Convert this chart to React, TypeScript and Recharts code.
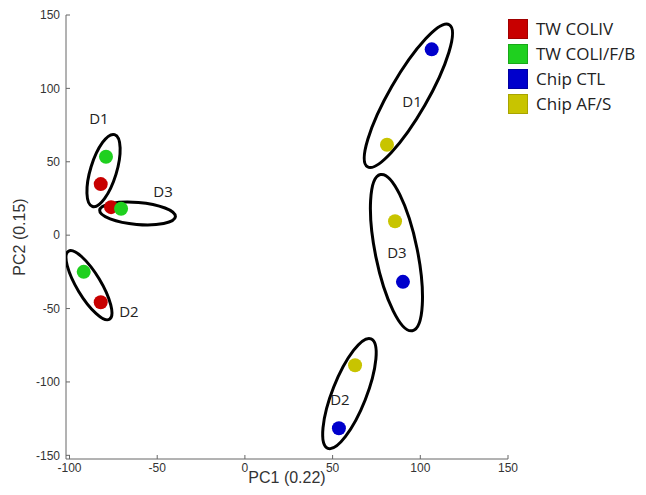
import { ScatterChart, Scatter, XAxis, YAxis, Label } from "recharts";

// PCA scores
const twColiv = [
  { x: -82.2, y: 34.8 },
  { x: -76.3, y: 19.1 },
  { x: -82.2, y: -45.7 },
];
const twColiFB = [
  { x: -79.2, y: 53.4 },
  { x: -70.6, y: 18.0 },
  { x: -91.9, y: -25.0 },
];
const chipCtl = [
  { x: 106.5, y: 126.6 },
  { x: 90.1, y: -31.8 },
  { x: 53.6, y: -131.6 },
];
const chipAFS = [
  { x: 81.0, y: 61.6 },
  { x: 85.6, y: 9.5 },
  { x: 62.8, y: -88.6 },
];

// donor ellipses: centre, tip of the long axis (data units), short radius (px)
const ellipses = [
  { x: -80.6, y: 44.0, tx: -74.3, ty: 68.5, r: 13 },
  { x: -61.2, y: 14.8, tx: -39.6, ty: 12.6, r: 11 },
  { x: -88.9, y: -34.1, tx: -77.2, ty: -57.3, r: 12 },
  { x: 93.2, y: 95.0, tx: 116.5, ty: 143.4, r: 19 },
  { x: 86.4, y: -11.9, tx: 77.3, ty: 41.3, r: 21 },
  { x: 59.6, y: -107.9, tx: 71.9, ty: -70.6, r: 17 },
];

const donorLabels = [
  { x: -83.2, y: 79.8, text: "D1" },
  { x: -46.7, y: 30.0, text: "D3" },
  { x: -66.1, y: -51.8, text: "D2" },
  { x: 95.3, y: 91.4, text: "D1" },
  { x: 86.7, y: -11.6, text: "D3" },
  { x: 54.2, y: -111.8, text: "D2" },
];

const xTicks = [-100, -50, 0, 50, 100, 150];
const yTicks = [-150, -100, -50, 0, 50, 100, 150];

const legendItems = [
  { name: "TW COLIV", color: "#c80000", border: "#a00000" },
  { name: "TW COLI/F/B", color: "#1fd01f", border: "#18a818" },
  { name: "Chip CTL", color: "#0000cc", border: "#0000a0" },
  { name: "Chip AF/S", color: "#c8c400", border: "#a8a400" },
];

const X_DOMAIN = [-102, 150];
const Y_DOMAIN = [-152.5, 150];
const PLOT_W = 442;
const PLOT_H = 444;
const KX = PLOT_W / (X_DOMAIN[1] - X_DOMAIN[0]);
const KY = PLOT_H / (Y_DOMAIN[1] - Y_DOMAIN[0]);

const dot = (color: string) => (props: any) =>
  <circle cx={props.cx} cy={props.cy} r={7} fill={color} />;

const EllipseShape = (props: any) => {
  const { cx, cy, payload } = props;
  const dx = (payload.tx - payload.x) * KX;
  const dy = -(payload.ty - payload.y) * KY;
  const rx = Math.hypot(dx, dy);
  const angle = (Math.atan2(dy, dx) * 180) / Math.PI;
  return (
    <ellipse
      cx={cx}
      cy={cy}
      rx={rx}
      ry={payload.r}
      transform={`rotate(${angle} ${cx} ${cy})`}
      fill="none"
      stroke="#000"
      strokeWidth={3}
    />
  );
};

const TextShape = (props: any) => (
  <text
    x={props.cx}
    y={props.cy}
    textAnchor="middle"
    dominantBaseline="central"
    fontSize={15}
    fontFamily="Open Sans"
    fill="#222"
  >
    {props.payload.text}
  </text>
);

const tickStyle = { fontSize: 12, fill: "#333", fontFamily: "Liberation Sans" };

export default function App() {
  return (
    <div style={{ position: "absolute", left: 0, top: 0, width: 646, height: 495, background: "#fff" }}>
      <ScatterChart width={646} height={495} margin={{ top: 15, right: 138, bottom: 6, left: 0 }}>
        <XAxis
          type="number"
          dataKey="x"
          domain={X_DOMAIN}
          ticks={xTicks}
          allowDataOverflow
          height={30}
          tick={tickStyle}
          tickSize={-4}
          tickMargin={8}
          axisLine={{ stroke: "#666" }}
          tickLine={{ stroke: "#666" }}
        >
          <Label
            value="PC1 (0.22)"
            position="insideBottom"
            offset={6}
            style={{ fontSize: 16, fill: "#333", fontFamily: "Liberation Sans" }}
          />
        </XAxis>
        <YAxis
          type="number"
          dataKey="y"
          domain={Y_DOMAIN}
          ticks={yTicks}
          allowDataOverflow
          width={66}
          tick={tickStyle}
          tickSize={-4}
          tickMargin={10}
          axisLine={{ stroke: "#666" }}
          tickLine={{ stroke: "#666" }}
        >
          <Label
            value="PC2 (0.15)"
            angle={-90}
            position="insideLeft"
            offset={19}
            style={{ fontSize: 16, fill: "#333", fontFamily: "Liberation Sans", textAnchor: "middle" }}
          />
        </YAxis>
        <Scatter data={ellipses} shape={EllipseShape} isAnimationActive={false} />
        <Scatter data={twColiv} shape={dot("#c80000")} isAnimationActive={false} />
        <Scatter data={twColiFB} shape={dot("#1fd01f")} isAnimationActive={false} />
        <Scatter data={chipCtl} shape={dot("#0000cc")} isAnimationActive={false} />
        <Scatter data={chipAFS} shape={dot("#c8c400")} isAnimationActive={false} />
        <Scatter data={donorLabels} shape={TextShape} isAnimationActive={false} />
      </ScatterChart>
      <div style={{ position: "absolute", left: 508, top: 16, fontFamily: "Open Sans", fontSize: 17, color: "#222" }}>
        {legendItems.map((item) => (
          <div key={item.name} style={{ display: "flex", alignItems: "center", height: 25, whiteSpace: "nowrap" }}>
            <span
              style={{
                display: "inline-block",
                width: 18,
                height: 18,
                background: item.color,
                border: `1px solid ${item.border}`,
                marginRight: 8,
              }}
            />
            {item.name}
          </div>
        ))}
      </div>
    </div>
  );
}
